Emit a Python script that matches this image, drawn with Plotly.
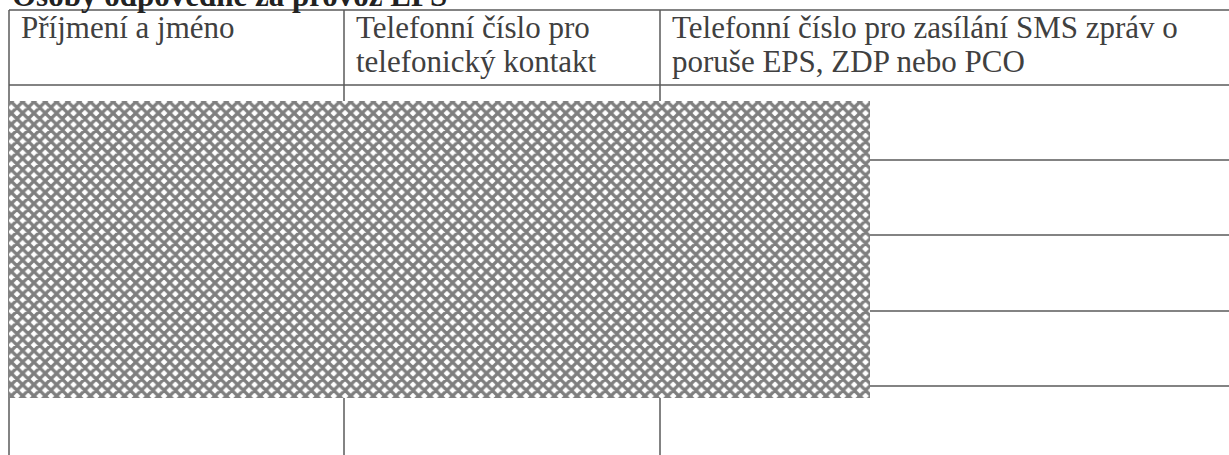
import plotly.graph_objects as go

# ---- content of the scanned table ----
title_text = "Osoby odpovědné za provoz EPS"
header_lines = [
    ["Příjmení a jméno"],
    ["Telefonní číslo pro", "telefonický kontakt"],
    ["Telefonní číslo pro zasílání SMS zpráv o", "poruše EPS, ZDP nebo PCO"],
]
# table grid (page pixel coordinates of the scan)
col_edges = [9, 344, 660, 1240]
row_edges = [10, 85, 160, 235, 311, 386, 470]
# redacted (noise-covered) block
redact_x = [9, 870]
redact_y = [101, 398]

W, H = 1229, 455
FS = 31
FONT = "Liberation Serif"
TXT = "#404040"
LINE = "#5a5a5a"

fig = go.Figure()

# redaction block drawn as a patterned bar
fig.add_trace(go.Bar(
    x=[(redact_x[0] + redact_x[1]) / 2],
    y=[redact_y[1] - redact_y[0]],
    base=[redact_y[0]],
    width=[redact_x[1] - redact_x[0]],
    marker=dict(color="white", line=dict(width=0),
                pattern=dict(shape="x", fgcolor="black", bgcolor="white",
                             size=8, solidity=0.65, fillmode="overlay")),
    hoverinfo="skip", showlegend=False,
))

shapes = []
for y in row_edges:
    shapes.append(dict(type="line", xref="x", yref="y", x0=col_edges[0], x1=col_edges[-1],
                       y0=y, y1=y, line=dict(color=LINE, width=1.5), layer="below"))
for x in col_edges:
    shapes.append(dict(type="line", xref="x", yref="y", x0=x, x1=x,
                       y0=row_edges[0], y1=row_edges[-1], line=dict(color=LINE, width=1.5), layer="below"))

annotations = []
base1, base2 = 38, 72
for i, lines in enumerate(header_lines):
    for j, t in enumerate(lines):
        b = base1 if j == 0 else base2
        annotations.append(dict(x=col_edges[i] + 10, y=b - 0.33 * FS, xref="x", yref="y",
                                text=t, showarrow=False, xanchor="left", yanchor="middle",
                                font=dict(family=FONT, size=FS, color=TXT)))
# title: only its lower part is visible at the top edge of the scan
title_center_px = 6 - 0.33 * FS
annotations.append(dict(x=10, y=1 - title_center_px / H, xref="x", yref="paper",
                        text="<b>" + title_text + "</b>",
                        showarrow=False, xanchor="left", yanchor="middle",
                        font=dict(family=FONT, size=FS, color="#222222")))

fig.update_layout(
    width=W, height=H, margin=dict(l=0, r=0, t=0, b=0),
    paper_bgcolor="white", plot_bgcolor="white",
    xaxis=dict(range=[0, W], visible=False, fixedrange=True),
    yaxis=dict(range=[H, 0], visible=False, fixedrange=True),
    shapes=shapes, annotations=annotations, bargap=0,
)
fig.write_html("out.html", config={"displayModeBar": False},
               post_script="document.body.style.margin='0';document.body.style.overflow='hidden';")
